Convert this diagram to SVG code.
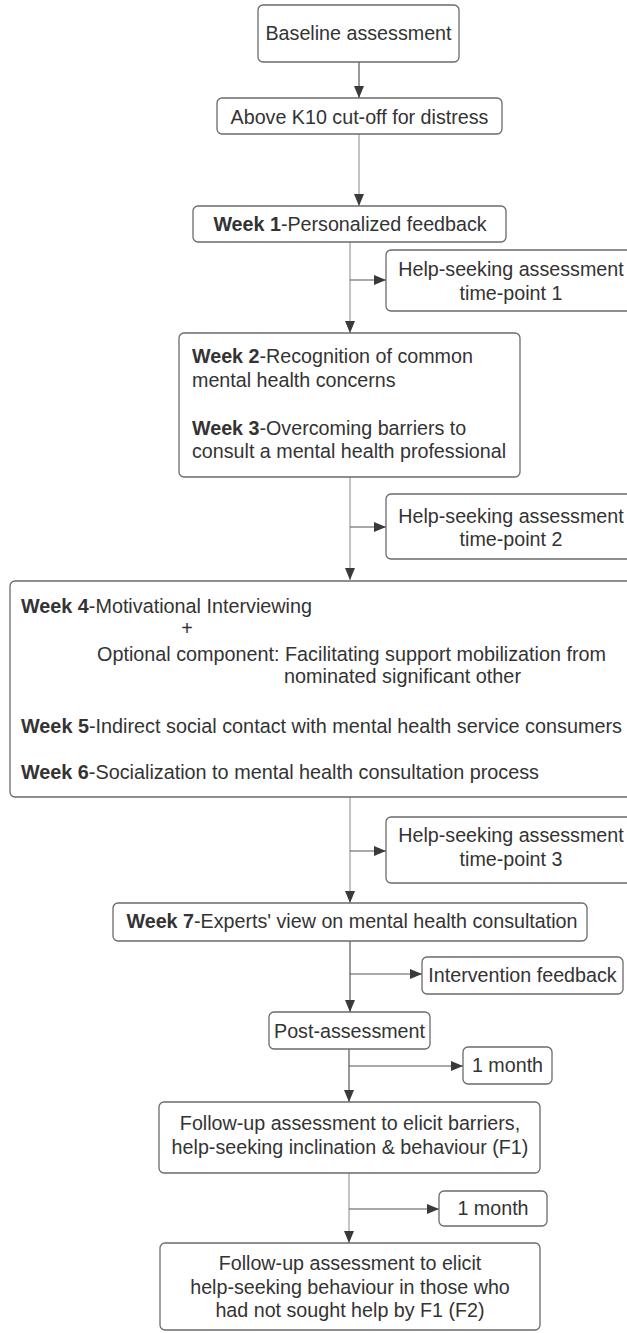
<svg xmlns="http://www.w3.org/2000/svg" width="627" height="1333" viewBox="0 0 627 1333">
<defs>
<marker id="ah" markerUnits="userSpaceOnUse" markerWidth="13" markerHeight="10" refX="12" refY="5" orient="auto">
<path d="M0,0 L12,5 L0,10 Z" fill="#3a3a3a"/>
</marker>
<style>
.box{fill:#fff;stroke:#6b6b6b;stroke-width:1.3}
.t{font-family:"Liberation Sans",Arial,sans-serif;font-size:19.7px;fill:#333}
.c{text-anchor:middle}
.b{font-weight:bold}
.ln{fill:none;stroke:#555;stroke-width:1.2}
.ln2{fill:none;stroke:#888;stroke-width:1}
</style>
</defs>
<rect width="627" height="1333" fill="#fff"/>
<g id="connectors">
<path class="ln" d="M359,62 V98" marker-end="url(#ah)"/>
<path class="ln2" d="M359,134 V206" marker-end="url(#ah)"/>
<path class="ln2" d="M350,242 V333" marker-end="url(#ah)"/>
<path class="ln" d="M350,280 H386" marker-end="url(#ah)"/>
<path class="ln2" d="M350,477 V580" marker-end="url(#ah)"/>
<path class="ln" d="M350,527 H386" marker-end="url(#ah)"/>
<path class="ln2" d="M350,797 V903" marker-end="url(#ah)"/>
<path class="ln" d="M350,851 H386" marker-end="url(#ah)"/>
<path class="ln" d="M350,941 V1012" marker-end="url(#ah)"/>
<path class="ln" d="M350,974 H422" marker-end="url(#ah)"/>
<path class="ln" d="M349,1049 V1102" marker-end="url(#ah)"/>
<path class="ln" d="M349,1066 H463" marker-end="url(#ah)"/>
<path class="ln2" d="M349,1173 V1243" marker-end="url(#ah)"/>
<path class="ln" d="M349,1209 H439" marker-end="url(#ah)"/>
</g>
<g id="baseline">
<rect class="box" x="258" y="5" width="201" height="57" rx="5"/>
<text class="t c" x="358.5" y="40">Baseline assessment</text>
</g>
<g id="k10">
<rect class="box" x="217" y="98" width="285" height="36" rx="5"/>
<text class="t c" x="359.5" y="124">Above K10 cut-off for distress</text>
</g>
<g id="week1">
<rect class="box" x="193" y="206" width="313" height="36" rx="5"/>
<text class="t c" x="350" y="231"><tspan class="b">Week 1</tspan>-Personalized feedback</text>
</g>
<g id="hs1">
<rect class="box" x="386" y="250" width="250" height="61" rx="5"/>
<text class="t c" x="511" y="276">Help-seeking assessment</text>
<text class="t c" x="511" y="300">time-point 1</text>
</g>
<g id="week23">
<rect class="box" x="179" y="333" width="341" height="144" rx="5"/>
<text class="t" x="192" y="363"><tspan class="b">Week 2</tspan>-Recognition of common</text>
<text class="t" x="192" y="387">mental health concerns</text>
<text class="t" x="192" y="435"><tspan class="b">Week 3</tspan>-Overcoming barriers to</text>
<text class="t" x="192" y="458">consult a mental health professional</text>
</g>
<g id="hs2">
<rect class="box" x="386" y="494" width="250" height="65" rx="5"/>
<text class="t c" x="511" y="523">Help-seeking assessment</text>
<text class="t c" x="511" y="546">time-point 2</text>
</g>
<g id="week456">
<rect class="box" x="10" y="581" width="630" height="216" rx="5"/>
<text class="t" x="21" y="613" textLength="291" lengthAdjust="spacingAndGlyphs"><tspan class="b">Week 4</tspan>-Motivational Interviewing</text>
<text class="t c" x="187" y="635">+</text>
<text class="t" x="97" y="661" textLength="509" lengthAdjust="spacingAndGlyphs">Optional component: Facilitating support mobilization from</text>
<text class="t" x="284" y="683" textLength="237" lengthAdjust="spacingAndGlyphs">nominated significant other</text>
<text class="t" x="21" y="733" textLength="601" lengthAdjust="spacingAndGlyphs"><tspan class="b">Week 5</tspan>-Indirect social contact with mental health service consumers</text>
<text class="t" x="21" y="779" textLength="518" lengthAdjust="spacingAndGlyphs"><tspan class="b">Week 6</tspan>-Socialization to mental health consultation process</text>
</g>
<g id="hs3">
<rect class="box" x="386" y="817" width="250" height="66" rx="5"/>
<text class="t c" x="511" y="842">Help-seeking assessment</text>
<text class="t c" x="511" y="866">time-point 3</text>
</g>
<g id="week7">
<rect class="box" x="113" y="903" width="474" height="38" rx="5"/>
<text class="t c" x="352" y="928"><tspan class="b">Week 7</tspan>-Experts' view on mental health consultation</text>
</g>
<g id="feedback">
<rect class="box" x="422" y="957" width="201" height="37" rx="5"/>
<text class="t c" x="522.5" y="982">Intervention feedback</text>
</g>
<g id="post">
<rect class="box" x="269" y="1012" width="161" height="37" rx="5"/>
<text class="t c" x="349.5" y="1038">Post-assessment</text>
</g>
<g id="month1">
<rect class="box" x="463" y="1047" width="89" height="37" rx="5"/>
<text class="t c" x="507.5" y="1072">1 month</text>
</g>
<g id="f1">
<rect class="box" x="159" y="1102" width="381" height="71" rx="5"/>
<text class="t c" x="350" y="1130">Follow-up assessment to elicit barriers,</text>
<text class="t c" x="350" y="1154">help-seeking inclination &amp; behaviour (F1)</text>
</g>
<g id="month2">
<rect class="box" x="439" y="1191" width="108" height="35" rx="5"/>
<text class="t c" x="493" y="1215">1 month</text>
</g>
<g id="f2">
<rect class="box" x="160" y="1243" width="380" height="87" rx="5"/>
<text class="t c" x="350" y="1270">Follow-up assessment to elicit</text>
<text class="t c" x="350" y="1294">help-seeking behaviour in those who</text>
<text class="t c" x="350" y="1317">had not sought help by F1 (F2)</text>
</g>
</svg>
